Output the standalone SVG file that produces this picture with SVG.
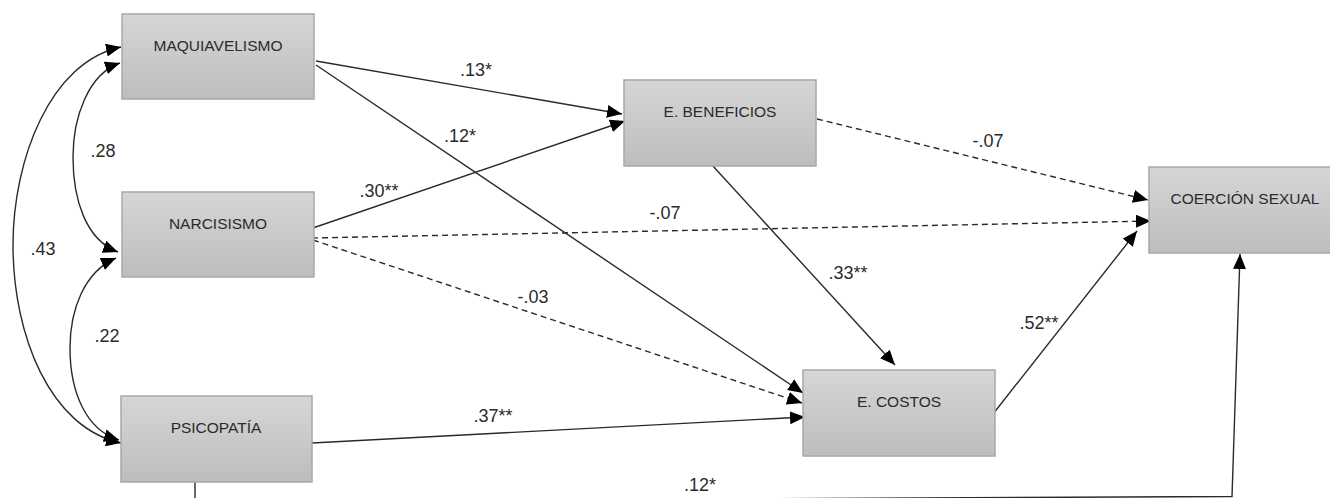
<svg xmlns="http://www.w3.org/2000/svg" width="1330" height="498" viewBox="0 0 1330 498">
<defs>
<linearGradient id="g" x1="0" y1="0" x2="0" y2="1">
<stop offset="0" stop-color="#d6d6d6"/>
<stop offset="1" stop-color="#bdbdbd"/>
</linearGradient>
<marker id="ah" markerUnits="userSpaceOnUse" markerWidth="16" markerHeight="13" refX="15" refY="6.5" orient="auto-start-reverse" viewBox="0 0 16 13">
<path d="M0,0 L15,6.5 L0,13 z" fill="#000"/>
</marker>
<style>
.box{fill:url(#g);stroke:#a8a8a8;stroke-width:1.5}
.bt{font-family:"Liberation Sans",Arial,sans-serif;font-size:15.5px;fill:#2b2b2b;text-anchor:middle}
.lb{font-family:"Liberation Sans",Arial,sans-serif;font-size:18px;fill:#2b2b2b;text-anchor:middle}
.c{fill:none;stroke:#2a2a2a;stroke-width:1.4}
.d{stroke-dasharray:6 4}
.a{marker-end:url(#ah)}
.b{marker-start:url(#ah);marker-end:url(#ah)}
</style>
</defs>
<rect width="1330" height="498" fill="#fff"/>
<g id="connectors">
<path class="c b" d="M121,47 C50,62 13,160 13,245 C13,335 50,428 121,443"/>
<path class="c b" d="M120,63 C88,74 73,118 73,157 C73,200 86,240 118,252"/>
<path class="c b" d="M116,258 C84,272 70,310 70,348 C70,392 86,430 119,440"/>
<path class="c a" d="M316,61 L622,114"/>
<path class="c a" d="M316,65 L803,393"/>
<path class="c a" d="M307,230 L625,121"/>
<path class="c d a" d="M312,238 L1151,221"/>
<path class="c d a" d="M313,240 L802,403"/>
<path class="c d a" d="M817,119 L1148,200"/>
<path class="c a" d="M712,165 L895,365"/>
<path class="c a" d="M993,414 L1137,231"/>
<path class="c a" d="M312,443 L805,417"/>
<path class="c a" d="M195,482 L195,501.5 L1232,496.5 L1240,254"/>
</g>
<g id="labels">
<text class="lb" x="476" y="76">.13*</text>
<text class="lb" x="460" y="142">.12*</text>
<text class="lb" x="379" y="197">.30**</text>
<text class="lb" x="665" y="219">-.07</text>
<text class="lb" x="988" y="147">-.07</text>
<text class="lb" x="848" y="279">.33**</text>
<text class="lb" x="1039" y="329">.52**</text>
<text class="lb" x="533" y="303">-.03</text>
<text class="lb" x="493" y="422">.37**</text>
<text class="lb" x="700" y="491">.12*</text>
<text class="lb" x="103" y="157">.28</text>
<text class="lb" x="43" y="255">.43</text>
<text class="lb" x="107" y="342">.22</text>
</g>
<g id="maquiavelismo"><rect class="box" x="122" y="14" width="192" height="85"/><text class="bt" x="218" y="51">MAQUIAVELISMO</text></g>
<g id="narcisismo"><rect class="box" x="122" y="192" width="192" height="85"/><text class="bt" x="218" y="229">NARCISISMO</text></g>
<g id="psicopatia"><rect class="box" x="121" y="396" width="191" height="86"/><text class="bt" x="216" y="433">PSICOPATÍA</text></g>
<g id="beneficios"><rect class="box" x="624" y="80" width="192" height="86"/><text class="bt" x="720" y="117">E. BENEFICIOS</text></g>
<g id="costos"><rect class="box" x="803" y="370" width="192" height="86"/><text class="bt" x="899" y="407">E. COSTOS</text></g>
<g id="coercion"><rect class="box" x="1149" y="167" width="192" height="86"/><text class="bt" x="1245" y="204">COERCIÓN SEXUAL</text></g>
</svg>
